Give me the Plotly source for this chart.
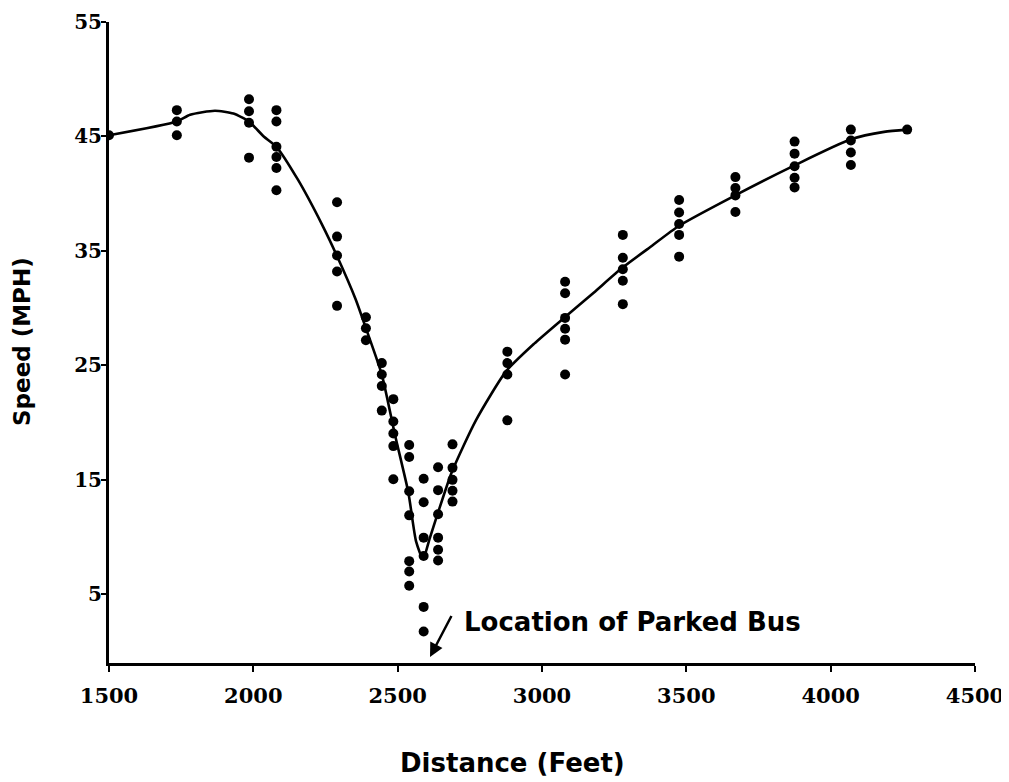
import plotly.graph_objects as go

# Observed speeds, grouped by measuring station (distance in feet)
station_feet = [1500, 1735, 1985, 2080, 2290, 2390, 2445, 2485, 2540, 2590,
                2640, 2690, 2880, 3080, 3280, 3475, 3670, 3875, 4070, 4265]
station_speeds = [
    [45.1],
    [47.3, 46.3, 45.1],
    [48.25, 47.2, 46.2, 43.15],
    [47.3, 46.3, 44.1, 43.2, 42.25, 40.3],
    [39.25, 36.25, 34.6, 33.2, 30.2],
    [29.2, 28.25, 27.2],
    [25.2, 24.2, 23.2, 21.05],
    [22.05, 20.1, 19.05, 17.95, 15.05],
    [18.05, 17.0, 14.0, 11.9, 7.9, 7.0, 5.75],
    [15.1, 13.05, 9.95, 8.35, 3.9, 1.75],
    [16.1, 14.1, 12.0, 9.95, 8.9, 7.95],
    [18.1, 16.05, 15.0, 14.05, 13.1],
    [26.2, 25.2, 24.2, 20.2],
    [32.3, 31.3, 29.15, 28.2, 27.25, 24.2],
    [36.4, 34.4, 33.4, 32.4, 30.35],
    [39.45, 38.35, 37.35, 36.4, 34.5],
    [41.45, 40.5, 39.85, 38.4],
    [44.55, 43.5, 42.4, 41.4, 40.55],
    [45.6, 44.65, 43.6, 42.5],
    [45.6],
]

# Fitted speed profile
curve_feet = [1500, 1735, 1781, 1867, 1931, 1985, 2036, 2080, 2155, 2238, 2289,
              2354, 2390, 2445, 2490, 2537, 2564, 2588, 2610, 2638, 2687, 2771,
              2876, 2973, 3081, 3179, 3277, 3373, 3475, 3669, 3873, 4070, 4185, 4265]
curve_speed = [45.1, 46.3, 46.9, 47.25, 47.0, 46.3, 45.0, 44.1, 41.2, 37.3, 34.6,
               30.8, 28.25, 24.2, 19.0, 13.9, 9.6, 8.1, 9.8, 12.0, 15.65, 20.2,
               24.5, 26.9, 29.25, 31.35, 33.5, 35.3, 37.2, 39.85, 42.45, 44.75, 45.4, 45.6]

x_ticks = [1500, 2000, 2500, 3000, 3500, 4000, 4500]
y_ticks = [5, 15, 25, 35, 45, 55]

x_title = "Distance (Feet)"
y_title = "Speed (MPH)"
bus_label = "Location of Parked Bus"
bus_arrow_head = (2612, -0.47)
bus_arrow_tail = (2689, 3.24)
bus_label_pos = (2724, 2.6)

obs_x = [d for d, sp in zip(station_feet, station_speeds) for _ in sp]
obs_y = [v for sp in station_speeds for v in sp]

fig = go.Figure()
fig.add_trace(go.Scatter(
    x=curve_feet, y=curve_speed, mode="lines",
    line=dict(color="black", width=2.6, shape="spline", smoothing=0.6),
    hoverinfo="skip", showlegend=False))
fig.add_trace(go.Scatter(
    x=obs_x, y=obs_y, mode="markers",
    marker=dict(color="black", size=10),
    showlegend=False))

# page body has an 8px margin, so the figure is sized 8px smaller
PLOT_W, PLOT_H = 866, 641

fig.update_layout(
    width=1001, height=774,
    margin=dict(l=101, r=34, t=14, b=119, autoexpand=False),
    paper_bgcolor="white", plot_bgcolor="white",
    xaxis=dict(
        range=[1500, 4500], tickvals=x_ticks, ticktext=[str(t) for t in x_ticks],
        showgrid=False, zeroline=False, showline=True, linecolor="black", linewidth=3,
        ticks="outside", ticklen=6, tickwidth=2, tickcolor="black",
        tickfont=dict(family="DejaVu Serif", size=21, color="black", weight="bold"),
        ticklabelstandoff=6, automargin=False,
    ),
    yaxis=dict(
        range=[-1, 55], tickvals=y_ticks, ticktext=[str(t) for t in y_ticks],
        showgrid=False, zeroline=False, showline=True, linecolor="black", linewidth=3,
        ticks="outside", ticklen=5, tickwidth=2, tickcolor="black",
        tickfont=dict(family="DejaVu Serif", size=20, color="black", weight="bold"),
        ticklabelstandoff=-5, automargin=False,
    ),
    annotations=[
        dict(x=bus_arrow_head[0], y=bus_arrow_head[1], xref="x", yref="y",
             ax=bus_arrow_tail[0], ay=bus_arrow_tail[1], axref="x", ayref="y",
             text="", showarrow=True, arrowhead=2, arrowsize=1.1,
             arrowwidth=2.5, arrowcolor="black", standoff=0),
        dict(x=bus_label_pos[0], y=bus_label_pos[1], xref="x", yref="y",
             text=bus_label, showarrow=False, xanchor="left", yanchor="middle",
             font=dict(family="DejaVu Sans", size=26, color="black", weight="bold")),
        dict(x=(512 - 109) / PLOT_W, y=(663 - 763) / PLOT_H, xref="paper", yref="paper",
             text=x_title, showarrow=False, xanchor="center", yanchor="middle",
             font=dict(family="DejaVu Sans", size=26, color="black", weight="bold")),
        dict(x=(22 - 109) / PLOT_W, y=(663 - 342) / PLOT_H, xref="paper", yref="paper",
             text=y_title, showarrow=False, xanchor="center", yanchor="middle",
             textangle=-90,
             font=dict(family="DejaVu Sans", size=23, color="black", weight="bold")),
    ],
)

fig.write_html("out.html")
